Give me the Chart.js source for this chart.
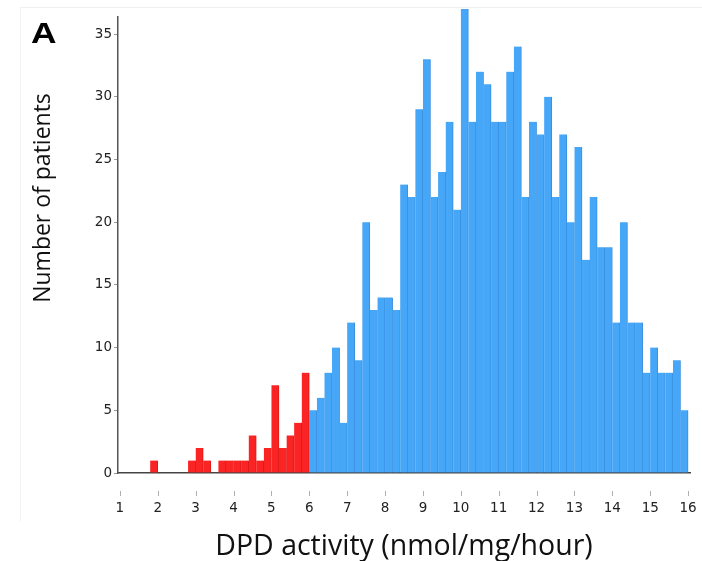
<!DOCTYPE html>
<html>
<head>
<meta charset="utf-8">
<title>DPD activity distribution</title>
<script src="https://cdn.jsdelivr.net/npm/chart.js@4.4.1/dist/chart.umd.min.js"></script>
<style>
  html, body { margin: 0; padding: 0; background: #fff; }
  #wrap { position: relative; width: 702px; height: 561px; }
  #frame { position: absolute; left: 20px; top: 7px; right: 0; bottom: 40px;
           border-top: 1px solid #f0f0f0; border-left: 1px solid #f3f3f3; pointer-events: none; }
</style>
</head>
<body>
<div id="wrap">
  <div id="frame"></div>
  <canvas id="grafico" width="702" height="561"></canvas>
</div>
<script>
// Histogram of DPD activity, bins 0.2 nmol/mg/hour wide
const binWidth = 0.2;
const firstBin = 1.0;

// counts from 1.0 to 6.0 (deficient range, red)
const lowCounts = [0, 0, 0, 0, 1, 0, 0, 0, 0, 1, 2, 1, 0, 1, 1, 1, 1, 3, 1, 2, 7, 2, 3, 4, 8];
// counts from 6.0 to 16.0 (normal range, blue)
const normalCounts = [
  5, 6, 8, 10, 4, 12, 9, 20, 13, 14, 14, 13, 23, 22, 29, 33, 22, 24, 28, 21, 37, 28, 32, 31, 28,
  28, 32, 34, 22, 28, 27, 30, 22, 27, 20, 26, 17, 22, 18, 18, 12, 20, 12, 12, 8, 10, 8, 8, 9, 5
];
const xTicks = [1, 2, 3, 4, 5, 6, 7, 8, 9, 10, 11, 12, 13, 14, 15, 16];
const yTicks = [0, 5, 10, 15, 20, 25, 30, 35];

// bar centres on the linear x scale
const toPoints = (counts, start) =>
  counts.map((c, i) => ({ x: +(start + (i + 0.5) * binWidth).toFixed(2), y: c }));

const lowData = toPoints(lowCounts, firstBin);
const normalData = toPoints(normalCounts, firstBin + lowCounts.length * binWidth);

const tickFont = { family: '"DejaVu Sans", sans-serif', size: 13.5 };

// small detached tick marks under the x axis, panel letter and y title
const extras = {
  id: 'extras',
  afterDraw(chart) {
    const { ctx } = chart;
    const xs = chart.scales.x;
    ctx.save();
    ctx.strokeStyle = '#b0b0b0';
    ctx.lineWidth = 1;
    xTicks.forEach(t => {
      const px = Math.round(xs.getPixelForValue(t)) + 0.5;
      ctx.beginPath();
      ctx.moveTo(px, 491);
      ctx.lineTo(px, 496);
      ctx.stroke();
    });

    // panel letter, a bit wider than the plain bold face
    ctx.save();
    ctx.translate(31, 43);
    ctx.scale(1.22, 1);
    ctx.fillStyle = '#000';
    ctx.font = 'bold 29px "Liberation Sans", Arial, sans-serif';
    ctx.textAlign = 'left';
    ctx.textBaseline = 'alphabetic';
    ctx.fillText('A', 0, 0);
    ctx.restore();

    ctx.translate(43, 198);
    ctx.rotate(-Math.PI / 2);
    ctx.font = '23px "Open Sans", sans-serif';
    ctx.textAlign = 'center';
    ctx.textBaseline = 'middle';
    ctx.fillStyle = '#111';
    ctx.fillText('Number of patients', 0, 0);
    ctx.restore();
  }
};

const ctx = document.getElementById('grafico').getContext('2d');
new Chart(ctx, {
  type: 'bar',
  data: {
    datasets: [
      {
        label: 'Deficient',
        data: lowData,
        backgroundColor: '#fa2424',
        borderColor: '#d81a1a',
        borderWidth: { left: 0, right: 1, top: 0, bottom: 0 },
        borderSkipped: false,
        barPercentage: 1,
        categoryPercentage: 1,
        clip: false,
        grouped: false
      },
      {
        label: 'Normal',
        data: normalData,
        backgroundColor: '#46a6f7',
        borderColor: '#3a8edc',
        borderWidth: { left: 0, right: 1, top: 0, bottom: 0 },
        borderSkipped: false,
        barPercentage: 1,
        categoryPercentage: 1,
        clip: false,
        grouped: false
      }
    ]
  },
  options: {
    responsive: false,
    animation: false,
    layout: { padding: { top: 16.5, right: 12, left: 0, bottom: 0 } },
    plugins: {
      legend: { display: false },
      tooltip: { enabled: false }
    },
    scales: {
      x: {
        type: 'linear',
        offset: false,
        min: 0.95,
        max: 16.05,
        afterBuildTicks: s => { s.ticks = xTicks.map(v => ({ value: v })); },
        afterFit: s => { s.height = 88; s.paddingLeft = 0; s.paddingRight = 0; },
        grid: { display: false, drawTicks: false },
        border: { display: true, color: '#444', width: 1.5 },
        ticks: {
          padding: 27,
          color: '#222',
          font: tickFont,
          maxRotation: 0
        },
        title: {
          display: true,
          text: 'DPD activity (nmol/mg/hour)',
          color: '#111',
          font: { family: '"Open Sans", sans-serif', size: 28.5 },
          padding: { top: 0, bottom: -3 }
        }
      },
      y: {
        min: 0,
        max: 36.4,
        afterBuildTicks: s => { s.ticks = yTicks.map(v => ({ value: v })); },
        afterFit: s => { s.width = 118; s.paddingTop = 0; s.paddingBottom = 0; },
        grid: { drawOnChartArea: false, drawTicks: true, tickLength: 4, color: '#999' },
        border: { display: true, color: '#555', width: 1.5 },
        ticks: {
          padding: 2,
          color: '#222',
          font: tickFont
        }
      }
    }
  },
  plugins: [extras]
});
</script>
</body>
</html>
